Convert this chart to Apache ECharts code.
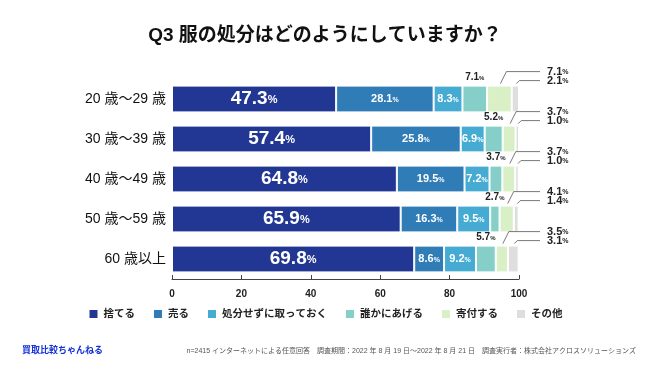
<!DOCTYPE html>
<html><head><meta charset="utf-8">
<script src="https://cdn.jsdelivr.net/npm/echarts@6/dist/echarts.min.js"></script>
<style>html,body{margin:0;padding:0;background:#fff}#c{width:650px;height:366px}</style>
</head><body><div id="c"></div>
<script>
const categories = ['20 歳～29 歳','30 歳～39 歳','40 歳～49 歳','50 歳～59 歳','60 歳以上'];
const seriesNames = ['捨てる','売る','処分せずに取っておく','誰かにあげる','寄付する','その他'];
const throwAway = [47.3, 57.4, 64.8, 65.9, 69.8];
const sell = [28.1, 25.8, 19.5, 16.3, 8.6];
const keep = [8.3, 6.9, 7.2, 9.5, 9.2];
const giveAway = [7.1, 5.2, 3.7, 2.7, 5.7];
const donate = [7.1, 3.7, 3.7, 4.1, 3.5];
const other = [2.1, 1.0, 1.0, 1.4, 3.1];
const xTicks = [0, 20, 40, 60, 80, 100];

const colors = ['#213793','#2f7cb7','#45abd3','#86cfc9','#d9efc6','#dedede'];
const FONT = '"Liberation Sans", "Noto Sans CJK JP", sans-serif';
const NUMFONT = 'Arial, "Liberation Sans", sans-serif';
const allData = [throwAway, sell, keep, giveAway, donate, other];
const BAR_RATIO = 0.67;
const LABEL_X = 547;
const LINE_END_X = 540;

function pctRich(numSize, pctSize, color){
  return {
    n:{fontSize:numSize, fontWeight:'bold', color:color, fontFamily:NUMFONT},
    p:{fontSize:pctSize, fontWeight:'bold', color:color, fontFamily:NUMFONT, padding:[numSize*0.15,0,0,0]}
  };
}
const fmt = p => '{n|' + p.value.toFixed(1) + '}{p|%}';

const labelCfg = [
  {show:true, position:'inside', formatter:fmt, rich:pctRich(19,11,'#fff')},
  {show:true, position:'inside', formatter:fmt, rich:pctRich(11,7,'#fff')},
  {show:true, position:'inside', formatter:fmt, rich:pctRich(11,7,'#fff')},
  {show:true, position:'top', distance:3, formatter:fmt, rich:pctRich(10,6,'#222')},
  {show:true, position:'right', formatter:fmt, rich:pctRich(11,7,'#222')},
  {show:true, position:'right', formatter:fmt, rich:pctRich(11,7,'#222')}
];
const labelOffY = {4:-14, 5:-5};

const series = seriesNames.map((name,i)=>{
  const s = {
    name, type:'bar', stack:'total', data: allData[i],
    barCategoryGap:'33%',
    itemStyle:{color:colors[i], borderColor:'#fff', borderWidth:1},
    label: labelCfg[i],
    emphasis:{disabled:true}
  };
  if (i >= 4) {
    const offY = labelOffY[i];
    s.labelLayout = function(params){
      return {x: LABEL_X, y: params.rect.y + offY, align:'left', verticalAlign:'middle', hideOverlap:false};
    };
  }
  return s;
});

// leader lines for 寄付する / その他 built from the stacked data
const leaderData = [];
categories.forEach((c, r) => {
  const base4 = throwAway[r] + sell[r] + keep[r] + giveAway[r];
  leaderData.push([base4 + donate[r] / 2, r, 4]);
  leaderData.push([base4 + donate[r] + other[r] / 2, r, 5]);
});
series.push({
  type:'custom', name:'leader', silent:true, legendHoverLink:false,
  data: leaderData,
  encode:{x:0, y:1},
  z:5,
  renderItem: function(params, api){
    const p = api.coord([api.value(0), api.value(1)]);
    const band = api.size([0, 1])[1];
    const top = p[1] - band * BAR_RATIO / 2;
    const which = api.value(2);
    const yLab = top + labelOffY[which];
    const rise = which === 4 ? 6 : 3;
    return {
      type:'polyline',
      shape:{points:[[p[0] + 1, top - 2], [p[0] + 1 + rise, yLab], [LINE_END_X, yLab]]},
      style:{stroke:'#555', lineWidth:0.8, fill:null}
    };
  }
});

const chart = echarts.init(document.getElementById('c'), null, {renderer:'canvas'});
chart.setOption({
  animation:false,
  textStyle:{fontFamily:FONT},
  title:{
    text:'Q3 服の処分はどのようにしていますか？', left:'center', top:21,
    textStyle:{fontSize:19, fontWeight:'bold', color:'#111', fontFamily:FONT}
  },
  legend:{
    bottom:41, left:'center', icon:'rect', itemWidth:10, itemHeight:10, itemGap:17,
    textStyle:{fontSize:10.5, fontWeight:'bold', color:'#222', fontFamily:FONT},
    data: seriesNames
  },
  grid:{left:172, right:131, top:79, bottom:87, containLabel:false},
  xAxis:{
    type:'value', min:0, max:100, interval:20,
    axisLine:{show:true, lineStyle:{color:'#444'}},
    axisTick:{show:true, inside:true, length:4, lineStyle:{color:'#444'}},
    splitLine:{show:false},
    axisLabel:{margin:10, fontSize:10, fontWeight:'bold', color:'#222', fontFamily:NUMFONT,
      formatter: v => xTicks.includes(v) ? String(v) : ''}
  },
  yAxis:{
    type:'category', data:categories, inverse:true,
    axisLine:{show:false}, axisTick:{show:false},
    axisLabel:{margin:6, fontSize:14, color:'#111', fontFamily:FONT}
  },
  graphic:[
    {type:'text', left:22, top:346, style:{text:'買取比較ちゃんねる', fontSize:9, fontWeight:'bold', fill:'#1530d8', fontFamily:FONT}},
    {type:'text', right:14, top:348, style:{text:'n=2415 インターネットによる任意回答　調査期間：2022 年 8 月 19 日～2022 年 8 月 21 日　調査実行者：株式会社アクロスソリューションズ', fontSize:7, fill:'#555', fontFamily:FONT}}
  ],
  series
});
</script></body></html>
